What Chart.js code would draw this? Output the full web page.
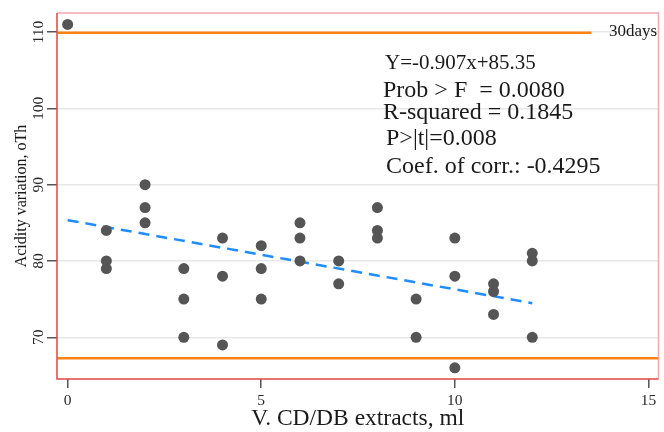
<!DOCTYPE html>
<html>
<head>
<meta charset="utf-8">
<script src="https://cdn.jsdelivr.net/npm/chart.js@4/dist/chart.umd.min.js"></script>
<style>
  html, body { margin: 0; padding: 0; background: #fff; }
</style>
</head>
<body>
<canvas id="chart" width="664" height="432"></canvas>
<script>
// volume of extract (ml) and acidity variation after 30 days
const volumes = [0, 1, 1, 1, 2, 2, 2, 3, 3, 3, 4, 4, 4, 5, 5, 5, 6, 6, 6, 7, 7, 8, 8, 8, 9, 9, 10, 10, 10, 11, 11, 11, 12, 12, 12];
const acidity = [111, 84, 80, 79, 90, 87, 85, 79, 75, 70, 83, 78, 69, 82, 79, 75, 85, 83, 80, 80, 77, 87, 84, 83, 75, 70, 83, 78, 66, 77, 76, 73, 81, 80, 70];

// fitted line Y = -0.907x + 85.35, end points
const fitX = [0, 12];
const fitY = [85.35, 74.47];

// orange limit lines (30 days)
const upperLimitX = [-0.275, 13.53];
const upperLimitY = [109.9, 109.9];
const lowerLimitX = [-0.275, 15.26];
const lowerLimitY = [67.25, 67.25];

const xTicks = [0, 5, 10, 15];
const yTicks = [70, 80, 90, 100, 110];

const statsLines = [
  'Y=-0.907x+85.35',
  'Prob > F  = 0.0080',
  'R-squared = 0.1845',
  'P>|t|=0.008',
  'Coef. of corr.: -0.4295'
];

const toPoints = (xs, ys) => xs.map((x, i) => ({ x: x, y: ys[i] }));

const serif = '"Liberation Serif", "Times New Roman", serif';

// frame round the plot area and the text block
const framePlugin = {
  id: 'frame',
  afterDatasetsDraw(chart) {
    const { ctx, chartArea: a } = chart;
    ctx.save();
    ctx.lineWidth = 1.5;
    ctx.strokeStyle = '#f4aaaa';
    ctx.beginPath();
    ctx.moveTo(a.left, a.top);
    ctx.lineTo(a.right, a.top);
    ctx.lineTo(a.right, a.bottom);
    ctx.stroke();
    ctx.strokeStyle = '#e04545';
    ctx.beginPath();
    ctx.moveTo(a.left, a.top);
    ctx.lineTo(a.left, a.bottom);
    ctx.lineTo(a.right, a.bottom);
    ctx.stroke();

    ctx.fillStyle = '#1a1a1a';
    ctx.textBaseline = 'alphabetic';
    ctx.textAlign = 'left';
    ctx.font = '17px ' + serif;
    ctx.fillText('30days', 609, 35.5);

    ctx.font = '21px ' + serif;
    ctx.fillText(statsLines[0], 385, 68.5);
    ctx.font = '24px ' + serif;
    ctx.fillText(statsLines[1], 383, 96.5);
    ctx.fillText(statsLines[2], 383, 119);
    ctx.fillText(statsLines[3], 386, 144.5);
    ctx.fillText(statsLines[4], 386, 172.5);
    ctx.restore();
  }
};

new Chart(document.getElementById('chart').getContext('2d'), {
  type: 'scatter',
  data: {
    datasets: [
      {
        label: 'Acidity',
        data: toPoints(volumes, acidity),
        backgroundColor: '#555555',
        borderWidth: 0,
        pointRadius: 5.5,
      },
      {
        label: 'Fit',
        data: toPoints(fitX, fitY),
        showLine: true,
        borderColor: '#1f8cff',
        borderWidth: 2.5,
        borderDash: [11, 7],
        pointRadius: 0,
      },
      {
        label: 'Upper',
        data: toPoints(upperLimitX, upperLimitY),
        showLine: true,
        borderColor: '#ff8214',
        borderWidth: 2.5,
        pointRadius: 0,
      },
      {
        label: 'Lower',
        data: toPoints(lowerLimitX, lowerLimitY),
        showLine: true,
        borderColor: '#ff8214',
        borderWidth: 2.5,
        pointRadius: 0,
      },
    ],
  },
  options: {
    responsive: false,
    animation: false,
    layout: { padding: { top: 13, right: 3, left: 0, bottom: 0 } },
    plugins: {
      legend: { display: false },
      tooltip: { enabled: false },
    },
    scales: {
      x: {
        type: 'linear',
        min: -0.275,
        max: 15.26,
        afterBuildTicks: s => { s.ticks = xTicks.map(v => ({ value: v })); },
        afterFit: s => { s.height = 53; },
        grid: { drawOnChartArea: false, tickLength: 9, tickColor: '#555', lineWidth: 1.5 },
        border: { display: false },
        ticks: { color: '#2a2a2a', padding: 4, font: { family: serif, size: 15.5 } },
        title: {
          display: true,
          text: 'V. CD/DB extracts, ml',
          color: '#1a1a1a',
          padding: { top: 0, bottom: -1 },
          font: { family: serif, size: 23.5 },
        },
      },
      y: {
        type: 'linear',
        min: 64.53,
        max: 112.5,
        afterBuildTicks: s => { s.ticks = yTicks.map(v => ({ value: v })); },
        afterFit: s => { s.width = 57; },
        grid: { color: '#e8e8e8', lineWidth: 1.5, tickLength: 10, tickColor: '#555' },
        border: { display: false },
        ticks: {
          color: '#2a2a2a',
          minRotation: 90,
          maxRotation: 90,
          crossAlign: 'center',
          padding: -4,
          font: { family: serif, size: 15.5 },
        },
        title: {
          display: true,
          text: 'Acidity variation, oTh',
          color: '#1a1a1a',
          padding: { top: 12, bottom: 0 },
          font: { family: serif, size: 16 },
        },
      },
    },
  },
  plugins: [framePlugin],
});
</script>
</body>
</html>
